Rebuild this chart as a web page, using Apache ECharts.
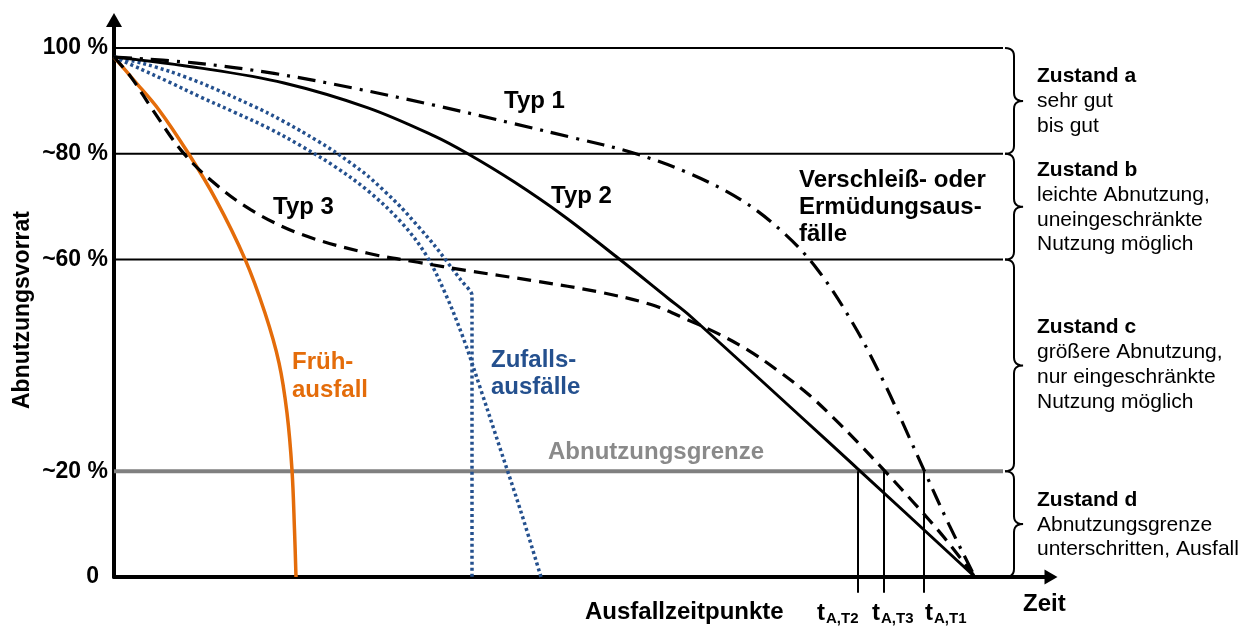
<!DOCTYPE html>
<html>
<head>
<meta charset="utf-8">
<script src="https://cdn.jsdelivr.net/npm/echarts@6/dist/echarts.min.js"></script>
<style>
  html, body { margin: 0; padding: 0; background: #fff; }
  #chart { width: 1250px; height: 626px; }
</style>
</head>
<body>
<div id="chart"></div>
<script>
// Zeit (x) in beliebigen Einheiten, Abnutzungsvorrat (y) in %
const yTickLabels = { 0: '0', 20: '~20 %', 60: '~60 %', 80: '~80 %', 100: '100 %' }
const levelLines = [100, 80, 60]
const wearLimit = 20
const levelEnd = 889

// Zustandsgrenzen (oben, unten) fuer die Klammern
const zustandBands = [[100, 80], [80, 60], [60, 20], [20, 0]]

const typ1 = [[0, 98.3], [80, 97.2], [160, 95.2], [240, 92.4], [320, 89.2], [400, 85.7], [460, 83.0],
  [517, 80.3], [574, 76.4], [627, 71.3], [670, 65.0], [704, 58.0], [740, 47.6], [770, 36.8],
  [795, 26.5], [810, 20.2], [835, 9.9], [861, 0]]
const typ2 = [[0, 98.3], [87, 96.2], [170, 93.4], [254, 88.7], [320, 83.4], [353, 80.1], [400, 74.7],
  [450, 68.2], [504, 60.3], [554, 52.7], [577, 49.2], [744, 20.4], [861, 0]]
const typ3 = [[0, 98.3], [17, 94.5], [37, 88.8], [67, 80.7], [97, 75.0], [137, 69.4], [187, 64.8],
  [254, 61.2], [304, 59.5], [354, 57.9], [420, 56.0], [487, 53.8], [537, 51.5], [574, 48.6],
  [604, 46.0], [634, 42.9], [664, 39.0], [694, 34.6], [720, 30.0], [745, 25.2], [770, 20.2],
  [800, 14.0], [830, 7.5], [861, 0]]
const fruehausfall = [[0, 98.3], [20, 93.9], [45, 88.3], [74, 80.2], [102, 71.3], [131, 60.1],
  [151, 49.9], [165, 40.5], [173, 31.0], [178, 20.2], [180.5, 8.9], [182, 0]]
const zufallA = [[0, 98.3], [27, 97.2], [57, 95.5], [87, 93.4], [120, 90.7], [154, 87.7], [187, 84.3],
  [220, 80.5], [254, 75.8], [287, 69.9], [320, 62.8], [347, 56.1], [358, 53.3], [358, 0]]
const zufallB = [[0, 98.3], [27, 96.0], [57, 93.4], [87, 90.7], [120, 87.9], [154, 84.9], [187, 81.5],
  [220, 77.7], [254, 73.0], [287, 67.1], [312, 60.9], [332, 53.3], [350, 44.8], [367, 35.3],
  [387, 23.8], [407, 12.3], [427, 0]]

// Ausfallzeitpunkte t_A (Schnitt mit Abnutzungsgrenze)
const ausfallZeiten = [744, 770, 810]
const ausfallNamen = ['A,T2', 'A,T3', 'A,T1']

const FONT = '"Liberation Sans", Arial, sans-serif'
const ORANGE = '#e46c0a'
const BLUE = '#24508e'
const GRAY = '#808080'

var myChart = echarts.init(document.getElementById('chart'))

function txt(x, y, text, size, bold, color, align) {
  return {
    type: 'text', x: x, y: y, z: 50,
    style: {
      text: text,
      font: (bold ? 'bold ' : '') + size + 'px ' + FONT,
      fill: color || '#000',
      align: align || 'left', textAlign: align || 'left',
      verticalAlign: 'middle', textVerticalAlign: 'middle'
    }
  }
}

// quadratische Bezier als Punktliste
function quad(p0, p1, p2, n) {
  const pts = []
  for (let i = 0; i <= n; i++) {
    const t = i / n
    const a = (1 - t) * (1 - t), b = 2 * (1 - t) * t, c = t * t
    pts.push([a * p0[0] + b * p1[0] + c * p2[0], a * p0[1] + b * p1[1] + c * p2[1]])
  }
  return pts
}

function lineSeries(data, color, width, type, extra) {
  return Object.assign({
    type: 'line',
    data: data,
    showSymbol: false,
    symbol: 'none',
    smooth: 0.35,
    lineStyle: { color: color, width: width, type: type || 'solid', cap: 'butt' },
    silent: true,
    animation: false
  }, extra || {})
}

const series = []
levelLines.forEach(v => {
  series.push(lineSeries([[0, v], [levelEnd, v]], '#000', 2, 'solid', { smooth: false }))
})
series.push(lineSeries([[0, wearLimit], [levelEnd, wearLimit]], GRAY, 4, 'solid', { smooth: false }))
series.push(lineSeries(fruehausfall, ORANGE, 3.5, 'solid'))
series.push(lineSeries(zufallA, BLUE, 3.5, [3, 3], { smooth: 0.2 }))
series.push(lineSeries(zufallB, BLUE, 3.5, [3, 3]))
series.push(lineSeries(typ3, '#000', 3.2, [14, 8]))
series.push(lineSeries(typ2, '#000', 3, 'solid'))
series.push(lineSeries(typ1, '#000', 3.2, [18, 8, 3, 8]))
ausfallZeiten.forEach(x => {
  series.push(lineSeries([[x, wearLimit], [x, -3]], '#000', 2, 'solid', { smooth: false, clip: false }))
})
// Klammern rechts
series.push({
  type: 'custom',
  data: zustandBands,
  silent: true,
  animation: false,
  clip: false,
  renderItem: function (params, api) {
    const top = api.coord([levelEnd, api.value(0)])
    const bot = api.coord([levelEnd, api.value(1)])
    const x0 = top[0] + 2, xv = x0 + 9, xt = x0 + 18
    const y1 = top[1], y2 = bot[1], ym = (y1 + y2) / 2, r = 8
    let pts = []
    pts = pts.concat(quad([x0, y1], [xv, y1], [xv, y1 + r], 6))
    pts = pts.concat(quad([xv, ym - r], [xv, ym], [xt, ym], 6))
    pts = pts.concat(quad([xt, ym], [xv, ym], [xv, ym + r], 6))
    pts = pts.concat(quad([xv, y2 - r], [xv, y2], [x0, y2], 6))
    return {
      type: 'polyline',
      shape: { points: pts },
      style: { stroke: '#000', lineWidth: 2, fill: 'none' }
    }
  }
})

const graphics = [
  {
    type: 'text', x: 23, y: 310, rotation: Math.PI / 2, z: 50,
    style: {
      text: 'Abnutzungsvorrat', font: 'bold 23px ' + FONT, fill: '#000',
      align: 'center', textAlign: 'center', verticalAlign: 'middle', textVerticalAlign: 'middle'
    }
  },
  txt(504, 101, 'Typ 1', 24, true),
  txt(551, 196, 'Typ 2', 24, true),
  txt(273, 207, 'Typ 3', 24, true),
  txt(799, 180, 'Verschleiß- oder', 24, true),
  txt(799, 207, 'Ermüdungsaus-', 24, true),
  txt(799, 234, 'fälle', 24, true),
  txt(292, 362, 'Früh-', 24, true, ORANGE),
  txt(292, 390, 'ausfall', 24, true, ORANGE),
  txt(491, 360, 'Zufalls-', 24, true, BLUE),
  txt(491, 387, 'ausfälle', 24, true, BLUE),
  txt(548, 452, 'Abnutzungsgrenze', 24, true, '#8a8a8a'),
  txt(585, 612, 'Ausfallzeitpunkte', 24, true),
  txt(1023, 604, 'Zeit', 24, true),

  txt(1037, 76, 'Zustand a', 21, true),
  txt(1037, 101, 'sehr gut', 21, false),
  txt(1037, 126, 'bis gut', 21, false),
  txt(1037, 170, 'Zustand b', 21, true),
  txt(1037, 195, 'leichte Abnutzung,', 21, false),
  txt(1037, 220, 'uneingeschränkte', 21, false),
  txt(1037, 244, 'Nutzung möglich', 21, false),
  txt(1037, 327, 'Zustand c', 21, true),
  txt(1037, 352, 'größere Abnutzung,', 21, false),
  txt(1037, 377, 'nur eingeschränkte', 21, false),
  txt(1037, 402, 'Nutzung möglich', 21, false),
  txt(1037, 500, 'Zustand d', 21, true),
  txt(1037, 525, 'Abnutzungsgrenze', 21, false),
  txt(1037, 549, 'unterschritten, Ausfall', 21, false)
]
// t_A-Beschriftungen
const tLabelX = [817, 872, 925]
ausfallNamen.forEach((n, i) => {
  graphics.push(txt(tLabelX[i], 613, 't', 24, true))
  graphics.push(txt(tLabelX[i] + 9, 619, n, 15, true))
})

let option = {
  backgroundColor: '#fff',
  animation: false,
  grid: { left: 114, right: 199, top: 20, bottom: 49, containLabel: false },
  xAxis: {
    type: 'value',
    min: 0,
    max: 937,
    axisLine: {
      show: true, onZero: false,
      symbol: ['none', 'triangle'], symbolSize: [15, 13],
      lineStyle: { color: '#000', width: 4 }
    },
    axisTick: { show: false },
    axisLabel: { show: false },
    splitLine: { show: false }
  },
  yAxis: {
    type: 'value',
    min: 0,
    max: 105.3,
    interval: 20,
    axisLine: {
      show: true, onZero: false,
      symbol: ['none', 'triangle'], symbolSize: [16, 14],
      lineStyle: { color: '#000', width: 4 }
    },
    axisTick: { show: false },
    splitLine: { show: false },
    axisLabel: {
      margin: 6,
      color: '#000',
      fontWeight: 'bold',
      fontSize: 23,
      fontFamily: FONT,
      verticalAlign: 'middle',
      formatter: function (v) {
        const s = yTickLabels[Math.round(v)]
        if (v !== Math.round(v) || s === undefined) return ''
        return v === 0 ? '{z|0}' : s
      },
      rich: {
        z: { padding: [0, 9, 0, 0], color: '#000', fontWeight: 'bold', fontSize: 23, fontFamily: FONT }
      }
    }
  },
  graphic: graphics,
  series: series
}
myChart.setOption(option)
window.onresize = function () {
  myChart.resize()
}
</script>
</body>
</html>
